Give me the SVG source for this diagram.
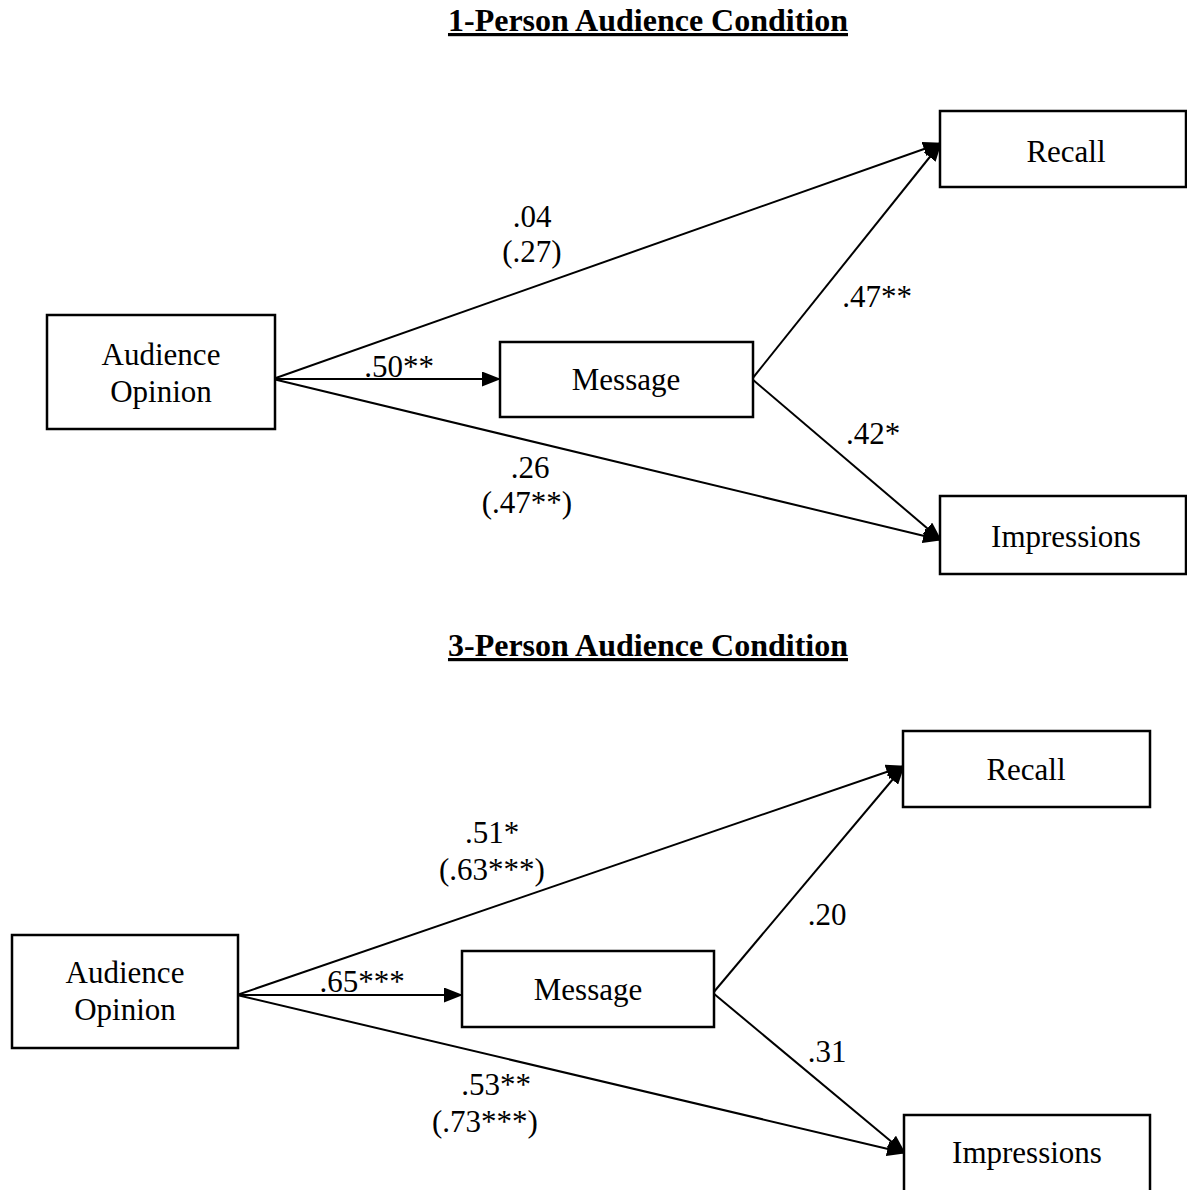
<svg xmlns="http://www.w3.org/2000/svg" width="1187" height="1190" viewBox="0 0 1187 1190">
<style>
.box{fill:#fff;stroke:#000;stroke-width:2.5}
.t{font-family:"Liberation Serif","Times New Roman",serif;font-size:31px;fill:#000;text-anchor:middle}
.title{font-family:"Liberation Serif","Times New Roman",serif;font-size:32px;font-weight:bold;fill:#000;text-anchor:middle;text-decoration:underline}
.ln{stroke:#000;stroke-width:2;fill:none;marker-end:url(#ah)}
</style>
<defs>
<marker id="ah" markerUnits="userSpaceOnUse" markerWidth="19" markerHeight="15" refX="18" refY="7.5" orient="auto">
<path d="M0,0 L19,7.5 L0,15 Z" fill="#000"/>
</marker>
</defs>
<rect width="1187" height="1190" fill="#fff"/>
<text class="title" x="648" y="31">1-Person Audience Condition</text>
<text class="title" x="648" y="656">3-Person Audience Condition</text>

<g id="connectors">
<line class="ln" x1="273" y1="379" x2="500" y2="379"/>
<line class="ln" x1="273" y1="379" x2="941" y2="143"/>
<line class="ln" x1="273" y1="379" x2="941" y2="540"/>
<line class="ln" x1="752" y1="379" x2="941" y2="143"/>
<line class="ln" x1="752" y1="379" x2="941" y2="540"/>
<line class="ln" x1="237" y1="995" x2="462" y2="995"/>
<line class="ln" x1="237" y1="995" x2="904" y2="766"/>
<line class="ln" x1="237" y1="995" x2="905" y2="1153"/>
<line class="ln" x1="713" y1="993" x2="904" y2="766"/>
<line class="ln" x1="713" y1="993" x2="905" y2="1153"/>
</g>

<g id="labels">
<text class="t" x="532" y="227">.04</text>
<text class="t" x="532" y="262">(.27)</text>
<text class="t" x="877" y="307">.47**</text>
<text class="t" x="399" y="377">.50**</text>
<text class="t" x="873" y="444">.42*</text>
<text class="t" x="530" y="478">.26</text>
<text class="t" x="527" y="513">(.47**)</text>
<text class="t" x="492" y="843">.51*</text>
<text class="t" x="492" y="880">(.63***)</text>
<text class="t" x="827" y="925">.20</text>
<text class="t" x="362" y="992">.65***</text>
<text class="t" x="827" y="1062">.31</text>
<text class="t" x="496" y="1095">.53**</text>
<text class="t" x="485" y="1132">(.73***)</text>
</g>

<g id="n1-opinion">
<rect class="box" x="47" y="315" width="228" height="114"/>
<text class="t" x="161" y="365">Audience</text>
<text class="t" x="161" y="402">Opinion</text>
</g>
<g id="n1-message">
<rect class="box" x="500" y="342" width="253" height="75"/>
<text class="t" x="626" y="390">Message</text>
</g>
<g id="n1-recall">
<rect class="box" x="940" y="111" width="246" height="76"/>
<text class="t" x="1066" y="162">Recall</text>
</g>
<g id="n1-impressions">
<rect class="box" x="940" y="496" width="246" height="78"/>
<text class="t" x="1066" y="547">Impressions</text>
</g>

<g id="n3-opinion">
<rect class="box" x="12" y="935" width="226" height="113"/>
<text class="t" x="125" y="983">Audience</text>
<text class="t" x="125" y="1020">Opinion</text>
</g>
<g id="n3-message">
<rect class="box" x="462" y="951" width="252" height="76"/>
<text class="t" x="588" y="1000">Message</text>
</g>
<g id="n3-recall">
<rect class="box" x="903" y="731" width="247" height="76"/>
<text class="t" x="1026" y="780">Recall</text>
</g>
<g id="n3-impressions">
<rect class="box" x="904" y="1115" width="246" height="90"/>
<text class="t" x="1027" y="1163">Impressions</text>
</g>
</svg>
